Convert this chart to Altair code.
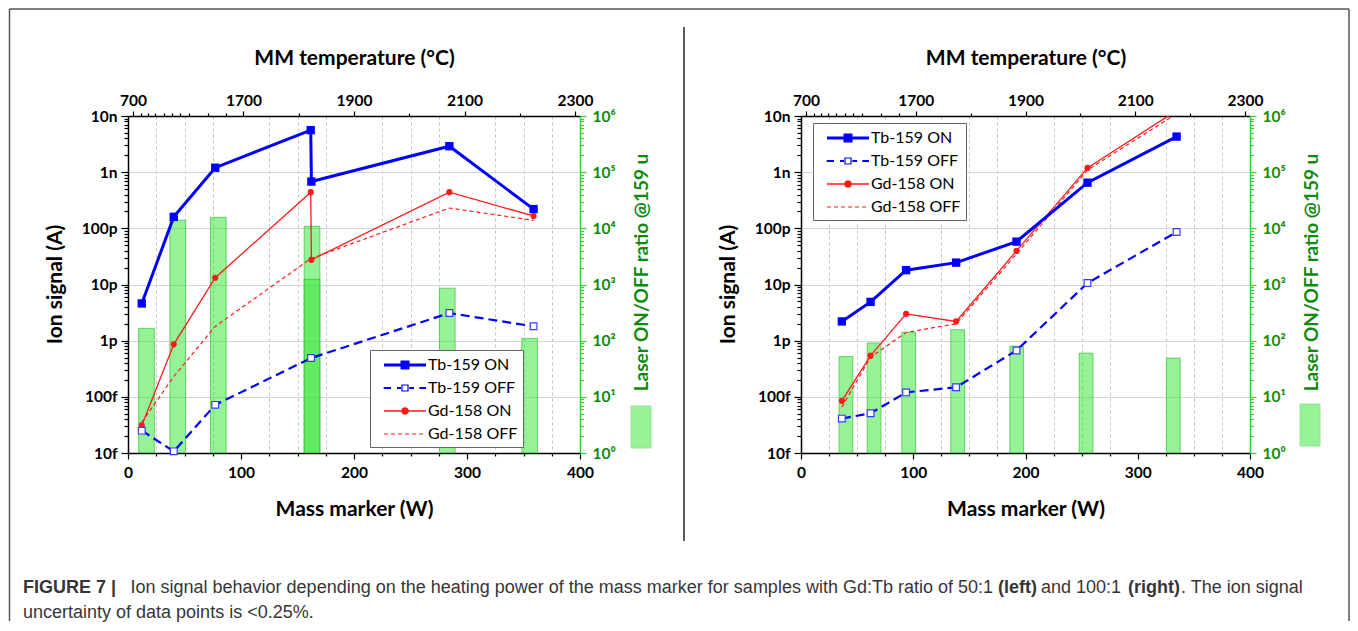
import altair as alt
import pandas as pd

# ------------------------------------------------------------------
# Values
# ------------------------------------------------------------------
# Left panel (Gd:Tb = 50:1)
L_W_ON = [12.2, 40.5, 77.2, 161.7, 162.3, 284.4, 358.9]
L_W_OFF = [12.2, 40.5, 77.2, 162.0, 284.4, 358.9]
L_TB_ON = [4.6e-12, 1.6e-10, 1.2e-9, 5.6e-9, 6.8e-10, 2.9e-9, 2.2e-10]
L_TB_OFF = [2.5e-14, 1.07e-14, 7.2e-14, 4.9e-13, 3.1e-12, 1.8e-12]
L_GD_ON = [3.1e-14, 8.6e-13, 1.32e-11, 4.4e-10, 2.75e-11, 4.4e-10, 1.66e-10]
L_GD_OFF = [3.5e-14, 2.3e-13, 1.8e-12, 2.9e-11, 2.3e-10, 1.39e-10]
L_W_RATIO = [12.2, 40.5, 77.2, 162.0, 162.0, 284.4, 358.9]
L_RATIO = [166, 14000, 15700, 10900, 1240, 860, 110]

# Right panel (Gd:Tb = 100:1)
R_W = [36.4, 62.0, 93.6, 138.2, 192.0, 255.2, 334.6]
R_TB_ON = [2.2e-12, 4.9e-12, 1.8e-11, 2.45e-11, 5.8e-11, 6.5e-10, 4.3e-9]
R_TB_OFF = [4.1e-14, 5.1e-14, 1.2e-13, 1.48e-13, 6.7e-13, 1.06e-11, 8.6e-11]
R_GD_ON = [8.5e-14, 5.4e-13, 3.0e-12, 2.2e-12, 3.96e-11, 1.19e-9, 1.25e-8]
R_GD_OFF = [6.6e-14, 5.1e-13, 1.4e-12, 2.0e-12, 3.5e-11, 1.09e-9, 1.1e-8]
R_RATIO = [52, 91, 141, 157, 80, 60, 49]

SERIES = ["Tb-159 ON", "Tb-159 OFF", "Gd-158 ON", "Gd-158 OFF"]

# Axis ticks and labels
X_TICKS = list(range(0, 401, 25))
TOP_MAJOR_W = [0, 100, 200, 300, 400]
TOP_MAJOR_LABELS = ["700", "1700", "1900", "2100", "2300"]
TOP_MINOR_W = [7.2, 13.9, 20.1, 27.7, 35.4, 42.9, 51.0, 68.0, 84.3, 150, 250, 350]
ION_EXP = [-14, -13, -12, -11, -10, -9, -8]
ION_LABELS = ["10f", "100f", "1p", "10p", "100p", "1n", "10n"]
RATIO_EXP = [0, 1, 2, 3, 4, 5, 6]
RATIO_LABELS = ["10⁰", "10¹", "10²", "10³", "10⁴", "10⁵", "10⁶"]

CAPTION_1 = [
    ("FIGURE 7 |", True),
    ("Ion signal behavior depending on the heating power of the mass marker for samples with Gd:Tb ratio of 50:1", False),
    ("(left)", True),
    ("and 100:1", False),
    ("(right)", True),
    (". The ion signal", False),
]
CAPTION_2 = "uncertainty of data points is <0.25%."

# ------------------------------------------------------------------
# Styles
# ------------------------------------------------------------------
BLUE = "#0000ff"
BLUE_LIGHT = "#3a3aff"
RED = "#ff1a1a"
GREEN_FILL = "#2ee62e"
GREEN_EDGE = "#3cc03c"
GREEN_AXIS = "#2fd82f"
GREEN_TEXT = "#0f8a0f"
FONT = "Lato"


def rect(x0, x1, h):
    return f"M{x0},{-h}H{x1}V{h}H{x0}Z"


def square(cx, h):
    return f"M{cx - h},{-h}H{cx + h}V{h}H{cx - h}Z"


def ring(cx, ho, hi):
    outer = f"M{cx - ho},{-ho}H{cx + ho}V{ho}H{cx - ho}Z"
    inner = f"M{cx - hi},{-hi}V{hi}H{cx + hi}V{-hi}Z"
    return outer + inner


def circle(cx, r):
    return (f"M{cx + r},0A{r},{r},0,1,1,{cx - r},0"
            f"A{r},{r},0,1,1,{cx + r},0Z")


def dashed(x0, x1, dash, gap, h):
    out, x = "", x0
    while x < x1:
        out += rect(round(x, 3), round(min(x + dash, x1), 3), h)
        x += dash + gap
    return out


LEG_PATHS = [
    rect(-0.1, 4.1, 0.14) + square(2.0, 0.45),
    rect(-0.13, 0.6, 0.11) + rect(1.2, 1.6, 0.11) + rect(2.43, 2.9, 0.11)
    + rect(3.43, 4.1, 0.11) + ring(2.0, 0.36, 0.24),
    rect(-0.1, 4.1, 0.065) + circle(2.0, 0.38),
    dashed(-0.1, 4.1, 0.4, 0.3, 0.06),
]
LEG_COLORS = [BLUE, BLUE, RED, RED]


def cond(test, a, b):
    return {"condition": {"test": test, "value": a}, "value": b}


def log_ticks(exps):
    major = [float(f"1e{e}") for e in exps]
    minor = [float(f"{k}e{e}") for e in exps[:-1] for k in range(2, 10)]
    return major, minor


def eq_chain(vals, labels):
    expr = "''"
    for v, lab in reversed(list(zip(vals, labels))):
        expr = f"datum.value === {v!r} ? '{lab}' : ({expr})"
    return expr


def is_major(vals):
    return " || ".join(f"datum.value === {v!r}" for v in vals)


ION_MAJ, ION_MIN = log_ticks(ION_EXP)
RAT_MAJ, RAT_MIN = log_ticks(RATIO_EXP)

X_SCALE = alt.Scale(domain=[0, 400], nice=False, zero=False)

X_BOTTOM = alt.X(
    "W:Q", scale=X_SCALE,
    axis=alt.Axis(
        orient="bottom", values=X_TICKS,
        labelExpr="datum.value % 100 === 0 ? datum.label : ''",
        tickSize=cond("datum.value % 100 === 0", 6, 3),
        grid=True, gridDash=[3, 3], gridColor="#c4c4c4",
        gridOpacity=cond("datum.value % 100 === 0", 0, 1),
        labelPadding=6, title="Mass marker (W)", titlePadding=18,
    ),
)

X_TOP = alt.X(
    "W:Q", scale=X_SCALE,
    axis=alt.Axis(
        orient="top", values=TOP_MAJOR_W + TOP_MINOR_W,
        labelExpr=eq_chain(TOP_MAJOR_W, TOP_MAJOR_LABELS),
        tickSize=cond(is_major(TOP_MAJOR_W), 5, 3),
        grid=False, labelPadding=3,
        title="MM temperature (°C)", titlePadding=25,
    ),
)

Y_LEFT = alt.Y(
    "v:Q", scale=alt.Scale(type="log", domain=[1e-14, 1e-8], nice=False),
    axis=alt.Axis(
        orient="left", values=ION_MAJ + ION_MIN,
        labelExpr=eq_chain(ION_MAJ, ION_LABELS),
        tickSize=cond(is_major(ION_MAJ), 7, 4),
        grid=True, gridColor="#d6d6d6", gridOpacity=cond(is_major(ION_MAJ), 1, 0),
        labelPadding=4, title="Ion signal (A)",
        titleX=-73, titleY=168, titleAngle=270, titleAlign="center", titleBaseline="middle",
    ),
)

Y_RIGHT = alt.Y(
    "r:Q", scale=alt.Scale(type="log", domain=[1, 1e6], nice=False),
    axis=alt.Axis(
        orient="right", values=RAT_MAJ + RAT_MIN,
        labelExpr=eq_chain(RAT_MAJ, RATIO_LABELS),
        tickSize=cond(is_major(RAT_MAJ), 6, 3.5),
        grid=False, domainColor=GREEN_AXIS, tickColor=GREEN_AXIS,
        labelColor=GREEN_TEXT, labelPadding=6,
        title="Laser ON/OFF ratio @159 u", titleColor=GREEN_TEXT, titleFontSize=19,
        titleX=61, titleY=156, titleAngle=270, titleAlign="center", titleBaseline="middle",
    ),
)


def series_df(ws, vs):
    return pd.DataFrame({"W": ws, "v": vs, "i": list(range(len(ws)))})


def panel(w_on, w_off, tb_on, tb_off, gd_on, gd_off, w_ratio, ratio,
          width, bar_px, leg_xy, swatch_xy, clip_points, extra=()):
    d_tb_on = series_df(w_on, tb_on)
    d_tb_off = series_df(w_off, tb_off)
    d_gd_on = series_df(w_on, gd_on)
    d_gd_off = series_df(w_off, gd_off)
    enc = dict(x=X_BOTTOM, y=Y_LEFT, order=alt.Order("i:Q"))
    penc = dict(x=X_BOTTOM, y=Y_LEFT)

    lines = [
        alt.Chart(d_gd_off).mark_line(color=RED, strokeWidth=1.2, strokeDash=[4, 3], clip=True).encode(**enc),
        alt.Chart(d_gd_on).mark_line(color=RED, strokeWidth=1.3, clip=True).encode(**enc),
        alt.Chart(d_tb_off).mark_line(color=BLUE, strokeWidth=2.2, strokeDash=[9, 5], clip=True).encode(**enc),
        alt.Chart(d_tb_on).mark_line(color=BLUE, strokeWidth=3, clip=True).encode(**enc),
    ]
    points = [
        alt.Chart(d_gd_on).mark_point(shape="circle", filled=True, color=RED, size=38,
                                      opacity=1, clip=clip_points).encode(**penc),
        alt.Chart(d_tb_off).mark_point(shape="square", filled=True, fill="white", stroke=BLUE_LIGHT,
                                       strokeWidth=1.2, size=45, opacity=1,
                                       clip=clip_points).encode(**penc),
        alt.Chart(d_tb_on).mark_point(shape="square", filled=True, color=BLUE, size=70,
                                      opacity=1, clip=clip_points).encode(**penc),
    ]
    leg = alt.Legend(
        title=None, orient="none", legendX=leg_xy[0], legendY=leg_xy[1],
        padding=5, rowPadding=5, symbolSize=400, symbolStrokeWidth=0,
        labelOffset=33, labelFont=FONT, labelFontSize=16, labelColor="black",
        fillColor="white", strokeColor="#666666",
    )
    carrier = (
        alt.Chart(pd.DataFrame({"series": SERIES}))
        .transform_filter("false")
        .mark_point(filled=True, size=400, opacity=1, strokeWidth=0)
        .encode(
            color=alt.Color("series:N", scale=alt.Scale(domain=SERIES, range=LEG_COLORS), legend=leg),
            shape=alt.Shape("series:N", scale=alt.Scale(domain=SERIES, range=LEG_PATHS), legend=leg),
        )
    )
    series_group = alt.layer(*lines, *points, carrier)

    bars = (
        alt.Chart(pd.DataFrame({"W": w_ratio, "r": ratio}))
        .transform_calculate(kind="'ratio'")
        .mark_bar(width=bar_px, fillOpacity=0.5, stroke=GREEN_EDGE, strokeWidth=1,
                  strokeOpacity=0.7, clip=True)
        .encode(
            x=X_TOP, y=Y_RIGHT, y2=alt.datum(1),
            fill=alt.Fill(
                "kind:N", scale=alt.Scale(domain=["ratio"], range=[GREEN_FILL]),
                legend=alt.Legend(
                    title=None, orient="none", legendX=swatch_xy[0], legendY=swatch_xy[1],
                    padding=0, symbolType="M-0.476,-1H0.476V1H-0.476Z", symbolSize=1764,
                    symbolStrokeWidth=1, symbolStrokeColor=GREEN_EDGE, symbolOpacity=0.5,
                    labelExpr="''", labelOffset=0,
                ),
            ),
        )
    )
    return (
        alt.layer(bars, series_group, *extra)
        .resolve_scale(x="independent", y="independent")
        .properties(width=width, height=337)
    )


# ------------------------------------------------------------------
# Caption, frame and divider (placed relative to the left plot area)
# ------------------------------------------------------------------
ONE = pd.DataFrame({"k": [0]})


def text_layer(txt, x, y, bold, align="left"):
    return alt.Chart(ONE).mark_text(
        text=txt, align=align, baseline="alphabetic", font="Liberation Sans",
        fontSize=18, fontWeight="bold" if bold else "normal", color="#363636",
    ).encode(x=alt.value(x), y=alt.value(y))


CAP_X = [-105, 865, 870, 913, 1000, 1053]
CAP_ALIGN = ["left", "right", "left", "left", "left", "left"]
cap_layers = [
    text_layer(t, x, 477, b, a) for (t, b), x, a in zip(CAPTION_1, CAP_X, CAP_ALIGN)
]
cap_layers.append(text_layer(CAPTION_2, -105, 502, False))

FRAME_TOP, FRAME_BOTTOM, FRAME_L, FRAME_R = -107, 505, -118.5, 1221
frame = [
    alt.Chart(ONE).mark_rule(color="#555555", strokeWidth=1.5).encode(
        x=alt.value(FRAME_L), y=alt.value(FRAME_TOP), y2=alt.value(FRAME_BOTTOM)),
    alt.Chart(ONE).mark_rule(color="#555555", strokeWidth=1.5).encode(
        x=alt.value(FRAME_R), y=alt.value(FRAME_TOP), y2=alt.value(FRAME_BOTTOM)),
    alt.Chart(ONE).mark_rule(color="#555555", strokeWidth=1.5).encode(
        x=alt.value(FRAME_L), x2=alt.value(FRAME_R), y=alt.value(FRAME_TOP)),
    alt.Chart(ONE).mark_rule(color="#222222", strokeWidth=1.5).encode(
        x=alt.value(556), y=alt.value(-89), y2=alt.value(425)),
]

left = panel(L_W_ON, L_W_OFF, L_TB_ON, L_TB_OFF, L_GD_ON, L_GD_OFF, L_W_RATIO, L_RATIO,
             452, 15.7, (242, 234), (491.5, 289.5), False, extra=frame + cap_layers)
right = panel(R_W, R_W, R_TB_ON, R_TB_OFF, R_GD_ON, R_GD_OFF, R_W, R_RATIO,
              449, 13.8, (12, 7), (487.5, 287.5), True)

RES = dict(color="independent", fill="independent", shape="independent")
chart = (
    alt.hconcat(left, right, spacing=221, bounds="flush")
    .resolve_scale(**RES)
    .resolve_legend(**RES)
    .properties(padding=0)
    .configure_view(strokeWidth=0)
    .configure_axis(
        labelFont=FONT, labelFontWeight="bold", labelFontSize=15.5, labelColor="black",
        titleFont=FONT, titleFontWeight="bold", titleFontSize=21, titleColor="black",
        domainColor="black", domainWidth=1.5, tickColor="black", tickWidth=1.2,
        labelFlush=False,
    )
    .configure_legend(labelFont=FONT, labelFontSize=16)
)

chart.save("out.html", embed_options={"renderer": "svg", "actions": False})
